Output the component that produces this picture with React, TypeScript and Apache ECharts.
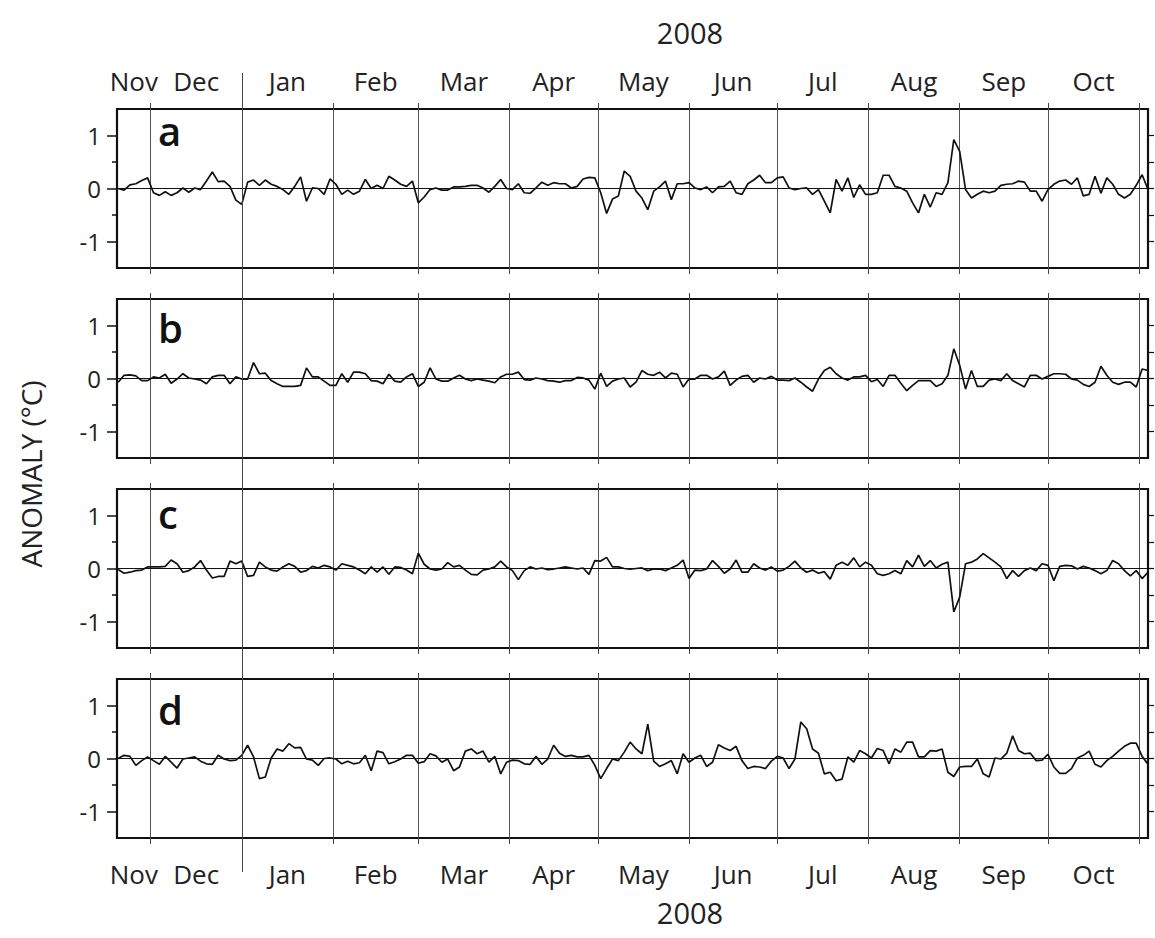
import React, { useEffect, useRef } from 'react';
import * as echarts from 'echarts';

// x values are days relative to 1 Dec 2007; first sample is 20 Nov 2007, one sample every 2 days
const FIRST_DAY = -11;
const STEP_DAYS = 2;
const X_MIN = -11.4;
const X_MAX = 339;
const MONTH_STARTS = [0, 31, 62, 91, 122, 152, 183, 213, 244, 275, 305, 336];
const MONTH_NAMES = ['Nov', 'Dec', 'Jan', 'Feb', 'Mar', 'Apr', 'May', 'Jun', 'Jul', 'Aug', 'Sep', 'Oct'];
const MONTH_LABEL_DAYS = [-5.7, 15.5, 46.5, 76.5, 106.5, 137, 167.5, 198, 228.5, 259.5, 290, 320.5];
const YEAR_START_DAY = 31;
const YEAR_LABEL = '2008';
const Y_TITLE = 'ANOMALY (°C)';
const Y_MAJOR = [-1, 0, 1];
const Y_MINOR = [-0.5, 0.5];
const Y_RIGHT = [-1, -0.5, 0, 0.5, 1];
const PANEL_LETTERS = ['a', 'b', 'c', 'd'];

const anomalyA = [
  0.0, -0.03, 0.07, 0.09, 0.15, 0.2, -0.08, -0.13, -0.06, -0.13,
  -0.08, 0.01, -0.07, 0.01, -0.02, 0.14, 0.31, 0.13, 0.14, 0.04,
  -0.22, -0.3, 0.12, 0.16, 0.06, 0.16, 0.08, 0.04, -0.02, -0.11,
  0.04, 0.22, -0.24, 0.01, 0, -0.11, 0.18, 0.08, -0.11, -0.03,
  -0.11, -0.05, 0.17, 0, 0.06, 0, 0.23, 0.16, 0.08, 0.04,
  0.14, -0.27, -0.16, -0.02, 0.01, -0.03, -0.03, 0.03, 0.03, 0.04,
  0.06, 0.06, 0.01, -0.07, 0.04,
  0.17, 0, -0.02, 0.09, -0.08, -0.09, 0.01, 0.12, 0.06, 0.11,
  0.09, 0.09, 0.01, 0.04, 0.18, 0.21, 0.2, -0.08, -0.47, -0.2,
  -0.14, 0.33, 0.23, -0.05, -0.18, -0.4, -0.05, 0.03, 0.14, -0.21,
  0.09, 0.09, 0.11, 0.01, -0.02, 0.03, -0.08, 0.03, 0.04, 0.14,
  -0.08, -0.11, 0.09, 0.16, 0.25, 0.11, 0.11, 0.2, 0.22, 0.01,
  -0.02, 0, 0.01, -0.11, -0.02, -0.24, -0.46, 0.17, -0.05, 0.2,
  -0.17, 0.07, -0.11, -0.11, -0.08, 0.25, 0.25, 0.04, 0.01, -0.05,
  -0.27, -0.46, -0.11, -0.35, -0.08, -0.11, 0.11, 0.92, 0.7, -0.02,
  -0.18, -0.11, -0.05, -0.08, -0.05, 0.06, 0.08, 0.09, 0.14, 0.12,
  -0.05, -0.05, -0.24, -0.02, 0.08, 0.14, 0.16, 0.08, 0.2, -0.14,
  -0.11, 0.23, -0.09, 0.2, 0.08, -0.11, -0.18, -0.11, 0.06, 0.26,
  -0.02,
];

const anomalyB = [
  -0.07, 0.06, 0.07, 0.05, -0.04, -0.04, 0.03, 0.01, 0.08, -0.09,
  -0.01, 0.09, 0.01, -0.01, -0.03, -0.1, 0.03, 0.06, 0.06, -0.1,
  0.03, -0.01, -0.01, 0.3, 0.09, 0.1, -0.04, -0.1, -0.15, -0.15,
  -0.15, -0.13, 0.2, 0.03, 0.03, -0.05, -0.13, -0.13, 0.09, -0.07,
  0.12, 0.12, 0.09, -0.04, -0.05, -0.1, 0.08, -0.05, -0.07, 0.03,
  0.09, -0.15, -0.07, 0.2, -0.01, -0.05, -0.05, 0.01, 0.06, -0.01,
  -0.04, -0.01, -0.03, -0.05, -0.08,
  0.03, 0.08, 0.08, 0.12, -0.02, -0.03, 0.01, -0.01, -0.04, -0.05,
  -0.07, -0.04, -0.04, 0.02, 0.01, -0.03, -0.2, 0.1, -0.15, -0.05,
  -0.01, 0.01, -0.16, -0.07, 0.15, 0.08, 0.06, 0.12, 0.01, 0.1,
  0.08, -0.16, -0.01, -0.01, 0.06, 0.06, -0.01, 0.03, 0.14, -0.13,
  -0.03, 0.04, 0.06, -0.07, 0.01, -0.01, 0.04, -0.03, -0.03, -0.04,
  0.01, -0.07, -0.16, -0.24, -0.01, 0.15, 0.21, 0.09, 0.01, -0.03,
  0.03, 0.03, 0.06, -0.06, -0.02, -0.15, 0.06, 0.06, -0.09, -0.23,
  -0.13, -0.04, -0.04, -0.04, -0.15, -0.1, 0.06, 0.56, 0.25, -0.2,
  0.15, -0.15, -0.15, -0.03, -0.01, -0.04, 0.09, -0.04, -0.1, -0.16,
  0.06, 0.06, -0.01, 0.04, 0.09, 0.09, 0.08, -0.01, -0.03, -0.11,
  -0.15, -0.07, 0.23, 0.06, -0.07, -0.11, -0.07, -0.07, -0.16, 0.18,
  0.15,
];

const anomalyC = [
  -0.02, -0.09, -0.07, -0.04, -0.03, 0.03, 0.03, 0.03, 0.04, 0.16,
  0.09, -0.07, -0.04, 0.03, 0.15, -0.03, -0.18, -0.15, -0.15, 0.14,
  0.09, 0.14, -0.15, -0.13, 0.12, 0.03, -0.03, -0.05, 0.03, 0.09,
  0.04, -0.07, -0.04, 0.04, 0.01, 0.06, 0.03, -0.03, 0.09, 0.06,
  0.03, -0.03, -0.1, 0.03, -0.07, 0.03, -0.11, 0.03, 0.02, -0.03,
  -0.1, 0.29, 0.08, -0.01, -0.03, -0.01, 0.11, 0.03, 0.06, -0.03,
  -0.11, -0.12, -0.03, -0.01, 0.03,
  0.14, 0.03, -0.04, -0.21, -0.04, 0.03, -0.01, 0.01, -0.02, -0.01,
  0.01, 0.03, 0.01, -0.01, 0.01, -0.11, 0.15, 0.14, 0.21, 0.03,
  0.03, 0, -0.01, 0, 0.01, -0.04, -0.01, -0.01, -0.04, 0.01,
  0.06, 0.16, -0.19, -0.03, -0.04, -0.01, 0.15, 0.04, -0.09, -0.01,
  0.16, -0.07, -0.07, 0.09, 0.01, -0.03, 0.03, -0.05, -0.03, 0.04,
  0.14, 0.01, -0.07, -0.03, -0.09, -0.06, -0.2, 0.06, 0.12, 0.06,
  0.2, 0.03, 0.12, 0.06, -0.1, -0.13, -0.1, -0.04, -0.1, 0.15,
  0.03, 0.25, 0.04, 0.15, 0.01, 0.08, 0.12, -0.82, -0.54, 0.09,
  0.12, 0.18, 0.28, 0.2, 0.12, 0.03, -0.19, -0.04, -0.15, -0.04,
  0.01, -0.04, 0.09, 0.06, -0.23, 0.04, 0.06, 0.05, -0.01, 0.04,
  0.01, -0.04, -0.1, -0.04, 0.15, 0.09, -0.04, -0.14, -0.04, -0.19,
  -0.07,
];

const anomalyD = [
  0, 0.06, 0.04, -0.13, -0.04, 0.03, -0.04, -0.11, 0.04, -0.07,
  -0.18, -0.01, 0.01, 0.03, -0.05, -0.1, -0.11, 0.06, -0.01, -0.04,
  -0.03, 0.06, 0.25, 0.03, -0.38, -0.35, 0.01, 0.18, 0.14, 0.28,
  0.2, 0.21, -0.01, -0.03, -0.13, 0, 0.01, -0.01, -0.1, -0.05,
  -0.1, -0.08, 0.06, -0.23, 0.14, 0.11, -0.1, -0.06, -0.01, 0.06,
  0.06, -0.09, -0.06, 0.09, 0.05, -0.07, -0.01, -0.23, -0.16, 0.14,
  0.18, 0.09, 0.14, -0.07, 0.04,
  -0.29, -0.07, -0.03, -0.04, -0.1, -0.11, 0.04, -0.11, -0.01, 0.25,
  0.1, 0.04, 0.06, 0.03, 0.03, 0.06, -0.13, -0.38, -0.19, -0.01,
  -0.04, 0.12, 0.31, 0.18, 0.09, 0.65, -0.05, -0.15, -0.1, -0.04,
  -0.29, 0.09, -0.07, 0.01, 0.06, -0.15, -0.07, 0.26, 0.2, 0.15,
  0.23, -0.04, -0.19, -0.15, -0.16, -0.19, -0.05, 0.04, 0.01, -0.19,
  -0.01, 0.69, 0.56, 0.18, 0.1, -0.29, -0.26, -0.42, -0.39, 0.03,
  -0.07, 0.15, 0.09, 0.01, 0.19, 0.15, -0.1, 0.18, 0.12, 0.31,
  0.31, 0.03, 0.03, 0.15, 0.14, 0.18, -0.26, -0.34, -0.16, -0.15,
  -0.15, -0.01, -0.29, -0.35, 0.01, -0.01, 0.1, 0.43, 0.15, 0.09,
  0.1, -0.04, -0.03, 0.08, -0.16, -0.28, -0.28, -0.19, 0.01, 0.06,
  0.14, -0.11, -0.16, -0.04, 0.04, 0.14, 0.23, 0.29, 0.29, 0.04,
  -0.11,
];

const PANELS = [anomalyA, anomalyB, anomalyC, anomalyD];

// layout (pixels)
const FONT = '"Open Sans", "Noto Sans", sans-serif';
const GRID_LEFT = 117;
const GRID_WIDTH = 1031;
const PANEL_TOPS = [109, 299, 489, 679];
const PANEL_HEIGHT = 159;
const LETTER_Y = [130, 327, 513, 709];

function monthName(v: number): string {
  const i = MONTH_LABEL_DAYS.findIndex((d) => Math.abs(d - v) < 0.01);
  return i >= 0 ? MONTH_NAMES[i] : '';
}

function buildOption(): any {
  const grid: any[] = [];
  const xAxis: any[] = [];
  const yAxis: any[] = [];
  const series: any[] = [];
  const graphic: any[] = [];

  PANELS.forEach((values, i) => {
    grid.push({
      left: GRID_LEFT,
      top: PANEL_TOPS[i],
      width: GRID_WIDTH,
      height: PANEL_HEIGHT,
      show: true,
      borderColor: '#111',
      borderWidth: 2.2,
      backgroundColor: 'transparent',
      containLabel: false,
      outerBoundsMode: 'none',
    });
    const monthAxis = (position: string, withLabels: boolean, split: boolean) => ({
      type: 'value',
      gridIndex: i,
      position,
      min: X_MIN,
      max: X_MAX,
      axisLine: { show: false, onZero: false },
      axisTick: {
        show: true,
        inside: false,
        length: 6,
        customValues: MONTH_STARTS,
        lineStyle: { color: '#444', width: 1 },
      },
      axisLabel: withLabels
        ? {
            show: true,
            customValues: MONTH_LABEL_DAYS,
            formatter: (v: number) => monthName(v),
            fontSize: 26,
            fontFamily: FONT,
            color: '#222',
            margin: position === 'top' ? 15 : 23,
          }
        : { show: false },
      splitLine: split ? { show: true, lineStyle: { color: '#555', width: 1 } } : { show: false },
    });
    xAxis.push(monthAxis('bottom', i === 3, true));
    xAxis.push(monthAxis('top', i === 0, false));

    const yBase = (position: string) => ({
      type: 'value',
      gridIndex: i,
      position,
      min: -1.5,
      max: 1.5,
      axisLine: { show: false, onZero: false },
      splitLine: { show: false },
    });
    yAxis.push({
      ...yBase('left'),
      axisTick: { show: true, length: 10, customValues: Y_MAJOR, lineStyle: { color: '#111', width: 1.5 } },
      axisLabel: { show: true, customValues: Y_MAJOR, fontSize: 24, fontFamily: FONT, color: '#222', margin: 16 },
    });
    yAxis.push({
      ...yBase('left'),
      axisTick: { show: true, length: 5, customValues: Y_MINOR, lineStyle: { color: '#111', width: 1.5 } },
      axisLabel: { show: false },
    });
    yAxis.push({
      ...yBase('right'),
      axisTick: { show: true, length: 6, customValues: Y_RIGHT, lineStyle: { color: '#111', width: 1.2 } },
      axisLabel: { show: false },
    });

    series.push({
      type: 'line',
      xAxisIndex: 2 * i,
      yAxisIndex: 3 * i,
      data: values.map((v, k) => [FIRST_DAY + k * STEP_DAYS, v]),
      symbol: 'none',
      showSymbol: false,
      lineStyle: { color: '#111', width: 1.7 },
      z: 3,
      markLine: {
        silent: true,
        symbol: 'none',
        label: { show: false },
        lineStyle: { color: '#111', width: 1.2, type: 'solid' },
        data: [{ yAxis: 0 }],
      },
    });

    graphic.push({
      type: 'text',
      x: 158,
      y: LETTER_Y[i],
      style: {
        text: PANEL_LETTERS[i],
        fontSize: 40,
        fontWeight: 600,
        fontFamily: FONT,
        fill: '#111',
        textAlign: 'left',
        textVerticalAlign: 'middle',
      },
    });
  });

  // overall grid used for the year separator at 1 Jan 2008
  grid.push({ left: GRID_LEFT, top: 73, width: GRID_WIDTH, height: 799, show: false, outerBoundsMode: 'none' });
  xAxis.push({ type: 'value', gridIndex: 4, min: X_MIN, max: X_MAX, show: false, axisLine: { onZero: false } });
  yAxis.push({ type: 'value', gridIndex: 4, min: 0, max: 1, show: false, axisLine: { onZero: false } });
  series.push({
    type: 'line',
    xAxisIndex: 8,
    yAxisIndex: 12,
    data: [[YEAR_START_DAY, 0.5]],
    symbol: 'none',
    showSymbol: false,
    lineStyle: { opacity: 0 },
    markLine: {
      silent: true,
      symbol: 'none',
      label: { show: false },
      lineStyle: { color: '#444', width: 1, type: 'solid' },
      data: [{ xAxis: YEAR_START_DAY }],
    },
  });

  graphic.push(
    {
      type: 'text',
      x: 690,
      y: 32,
      style: { text: YEAR_LABEL, fontSize: 29, fontFamily: FONT, fill: '#222', textAlign: 'center', textVerticalAlign: 'middle' },
    },
    {
      type: 'text',
      x: 690,
      y: 912,
      style: { text: YEAR_LABEL, fontSize: 29, fontFamily: FONT, fill: '#222', textAlign: 'center', textVerticalAlign: 'middle' },
    },
    {
      type: 'text',
      x: 31,
      y: 474,
      rotation: Math.PI / 2,
      style: { text: Y_TITLE, fontSize: 28, fontFamily: FONT, fill: '#222', textAlign: 'center', textVerticalAlign: 'middle' },
    }
  );

  return {
    animation: false,
    backgroundColor: '#fff',
    textStyle: { fontFamily: FONT },
    grid,
    xAxis,
    yAxis,
    series,
    graphic,
  };
}

export default function App() {
  const ref = useRef<HTMLDivElement>(null);
  useEffect(() => {
    if (!ref.current) return;
    const chart = echarts.init(ref.current, undefined, { renderer: 'svg' });
    chart.setOption(buildOption());
    return () => chart.dispose();
  }, []);
  return (
    <div
      ref={ref}
      style={{ position: 'absolute', left: 0, top: 0, width: 1155, height: 938, background: '#fff' }}
    />
  );
}
